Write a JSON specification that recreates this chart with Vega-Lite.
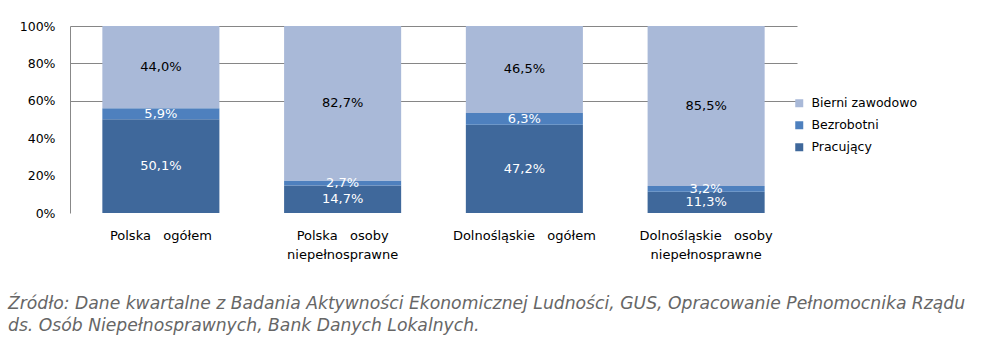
{
  "$schema": "https://vega.github.io/schema/vega-lite/v6.json",
  "width": 727,
  "height": 187,
  "autosize": {"type": "none"},
  "padding": {"left": 70, "top": 26, "right": 204, "bottom": 139},
  "background": "#ffffff",
  "config": {
    "view": {"stroke": null},
    "font": "DejaVu Sans",
    "locale": {"number": {"decimal": ",", "thousands": " ", "grouping": [3], "currency": ["", " zł"]}}
  },
  "title": {
    "text": ["Źródło: Dane kwartalne z Badania Aktywności Ekonomicznej Ludności, GUS, Opracowanie Pełnomocnika Rządu", "ds. Osób Niepełnosprawnych, Bank Danych Lokalnych."],
    "orient": "bottom",
    "anchor": "start",
    "frame": "group",
    "dx": -62,
    "offset": 34,
    "font": "DejaVu Sans",
    "fontStyle": "italic",
    "fontWeight": "normal",
    "fontSize": 17.2,
    "color": "#666666",
    "lineHeight": 22
  },
  "data": {
    "values": [
      {"cat": "Polska   ogółem", "group": "Pracujący", "order": 1, "value": 0.501},
      {"cat": "Polska   ogółem", "group": "Bezrobotni", "order": 2, "value": 0.059},
      {"cat": "Polska   ogółem", "group": "Bierni zawodowo", "order": 3, "value": 0.440},
      {"cat": "Polska   osoby|niepełnosprawne", "group": "Pracujący", "order": 1, "value": 0.147},
      {"cat": "Polska   osoby|niepełnosprawne", "group": "Bezrobotni", "order": 2, "value": 0.027},
      {"cat": "Polska   osoby|niepełnosprawne", "group": "Bierni zawodowo", "order": 3, "value": 0.827},
      {"cat": "Dolnośląskie   ogółem", "group": "Pracujący", "order": 1, "value": 0.472},
      {"cat": "Dolnośląskie   ogółem", "group": "Bezrobotni", "order": 2, "value": 0.063},
      {"cat": "Dolnośląskie   ogółem", "group": "Bierni zawodowo", "order": 3, "value": 0.465},
      {"cat": "Dolnośląskie   osoby|niepełnosprawne", "group": "Pracujący", "order": 1, "value": 0.113},
      {"cat": "Dolnośląskie   osoby|niepełnosprawne", "group": "Bezrobotni", "order": 2, "value": 0.032},
      {"cat": "Dolnośląskie   osoby|niepełnosprawne", "group": "Bierni zawodowo", "order": 3, "value": 0.855}
    ]
  },
  "encoding": {
    "x": {
      "field": "cat",
      "type": "nominal",
      "sort": null,
      "scale": {"paddingInner": 0.356, "paddingOuter": 0.178},
      "axis": {
        "title": null,
        "domain": false,
        "ticks": false,
        "labelAngle": 0,
        "labelPadding": 16,
        "labelFontSize": 13,
        "labelColor": "#000000",
        "labelLineHeight": 19,
        "labelExpr": "split(replace(datum.label, '   ', '\u00a0\u00a0\u00a0'), '|')"
      }
    }
  },
  "layer": [
    {
      "mark": {"type": "bar"},
      "encoding": {
        "y": {
          "field": "value",
          "type": "quantitative",
          "stack": "normalize",
          "scale": {"domain": [0, 1], "nice": false},
          "axis": {
            "title": null,
            "format": ".0%",
            "values": [0, 0.2, 0.4, 0.6, 0.8, 1],
            "tickCount": 6,
            "labelOverlap": false,
            "ticks": false,
            "domainColor": "#888888",
            "labelPadding": 15,
            "labelFontSize": 12.5,
            "labelColor": "#000000",
            "gridColor": "#868686",
            "gridOpacity": {"condition": {"test": "datum.value > 0.5", "value": 1}, "value": 0}
          }
        },
        "order": {"field": "order", "type": "quantitative"},
        "color": {
          "field": "group",
          "type": "nominal",
          "scale": {"domain": ["Bierni zawodowo", "Bezrobotni", "Pracujący"], "range": ["#A9B9D8", "#4E80BE", "#3F689B"]},
          "legend": {
            "title": null,
            "orient": "none",
            "legendX": 723,
            "legendY": 71,
            "symbolType": "square",
            "symbolSize": 64,
            "symbolStrokeWidth": 0,
            "labelFontSize": 12.5,
            "labelColor": "#000000",
            "labelOffset": 6,
            "rowPadding": 9
          }
        }
      }
    },
    {
      "mark": {"type": "text", "fontSize": 13},
      "encoding": {
        "y": {
          "field": "value",
          "type": "quantitative",
          "stack": "normalize",
          "bandPosition": 0.5,
          "axis": {
            "title": null,
            "format": ".0%",
            "values": [0, 0.2, 0.4, 0.6, 0.8, 1],
            "tickCount": 6,
            "labelOverlap": false,
            "ticks": false,
            "domainColor": "#888888",
            "labelPadding": 15,
            "labelFontSize": 12.5,
            "labelColor": "#000000",
            "gridColor": "#868686",
            "gridOpacity": {"condition": {"test": "datum.value > 0.5", "value": 1}, "value": 0}
          }
        },
        "detail": {"field": "group", "type": "nominal"},
        "order": {"field": "order", "type": "quantitative"},
        "text": {"field": "value", "type": "quantitative", "format": ".1%"},
        "color": {"condition": {"test": "datum.group === 'Bierni zawodowo'", "value": "#000000"}, "value": "#ffffff"}
      }
    }
  ]
}
